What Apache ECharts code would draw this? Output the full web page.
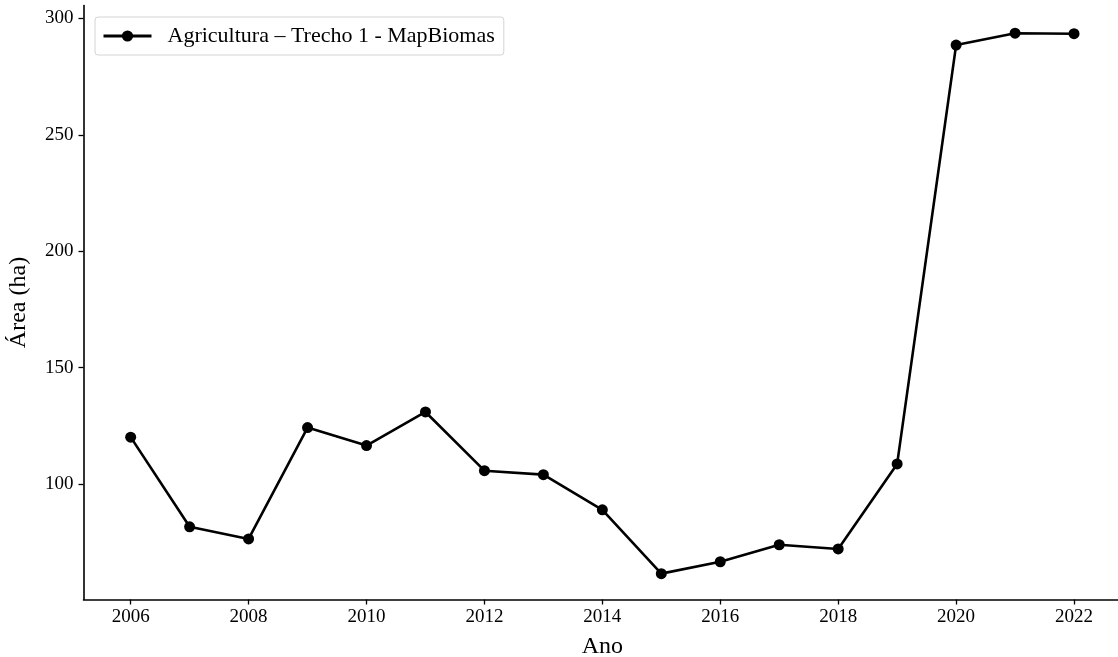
<!DOCTYPE html>
<html>
<head>
<meta charset="utf-8">
<script src="https://cdn.jsdelivr.net/npm/echarts@6/dist/echarts.min.js"></script>
<style>html,body{margin:0;padding:0;background:#fff}#c{width:1118px;height:657px}</style>
</head>
<body>
<div id="c"></div>
<script>
const years = [2006,2007,2008,2009,2010,2011,2012,2013,2014,2015,2016,2017,2018,2019,2020,2021,2022];
const area = [120.2,81.7,76.5,124.3,116.6,131.0,105.8,104.1,89.0,61.6,66.7,74.0,72.2,108.7,288.5,293.6,293.4];
const xTicks = [2006,2008,2010,2012,2014,2016,2018,2020,2022];
const yTicks = [100,150,200,250,300];
const seriesName = 'Agricultura – Trecho 1 - MapBiomas';

const font = 'Liberation Serif';
const chart = echarts.init(document.getElementById('c'), null, {renderer:'canvas'});
chart.setOption({
  animation:false,
  backgroundColor:'#fff',
  grid:{left:83.5, top:5.5, width:1037.7, height:594, outerBoundsMode:'none', containLabel:false},
  legend:{
    left:95, top:17, orient:'horizontal',
    padding:[8,9,8,7],
    backgroundColor:'#fff',
    borderColor:'#d4d4d4', borderWidth:1, borderRadius:3,
    itemWidth:48, itemHeight:14,
    lineStyle:{width:3, color:'#000'},
    itemStyle:{color:'#000'},
    textStyle:{fontFamily:font, fontSize:22, color:'#000', padding:[0,0,0,11]},
    data:[seriesName]
  },
  xAxis:{
    type:'value', min:2005.2, max:2022.8,
    name:'Ano', nameLocation:'middle', nameGap:35,
    nameTextStyle:{fontFamily:font, fontSize:24, color:'#000'},
    axisLine:{show:true, lineStyle:{color:'#000', width:1.6}},
    axisTick:{show:true, length:5, lineStyle:{color:'#000', width:1.3}, customValues:xTicks},
    axisLabel:{fontFamily:font, fontSize:19, color:'#000', margin:8, customValues:xTicks, formatter:v=>String(v)},
    splitLine:{show:false}
  },
  yAxis:{
    type:'value', min:50.5, max:305.5,
    name:'Área (ha)', nameLocation:'middle', nameGap:53,
    nameTextStyle:{fontFamily:font, fontSize:24, color:'#000'},
    axisLine:{show:true, lineStyle:{color:'#000', width:1.6}},
    axisTick:{show:true, length:5, lineStyle:{color:'#000', width:1.3}, customValues:yTicks},
    axisLabel:{fontFamily:font, fontSize:19, color:'#000', margin:10, customValues:yTicks},
    splitLine:{show:false}
  },
  series:[{
    name:seriesName, type:'line',
    data:years.map((y,i)=>[y, area[i]]),
    symbol:'circle', symbolSize:11, showAllSymbol:true,
    lineStyle:{color:'#000', width:2.6},
    itemStyle:{color:'#000'}
  }]
});
</script>
</body>
</html>
